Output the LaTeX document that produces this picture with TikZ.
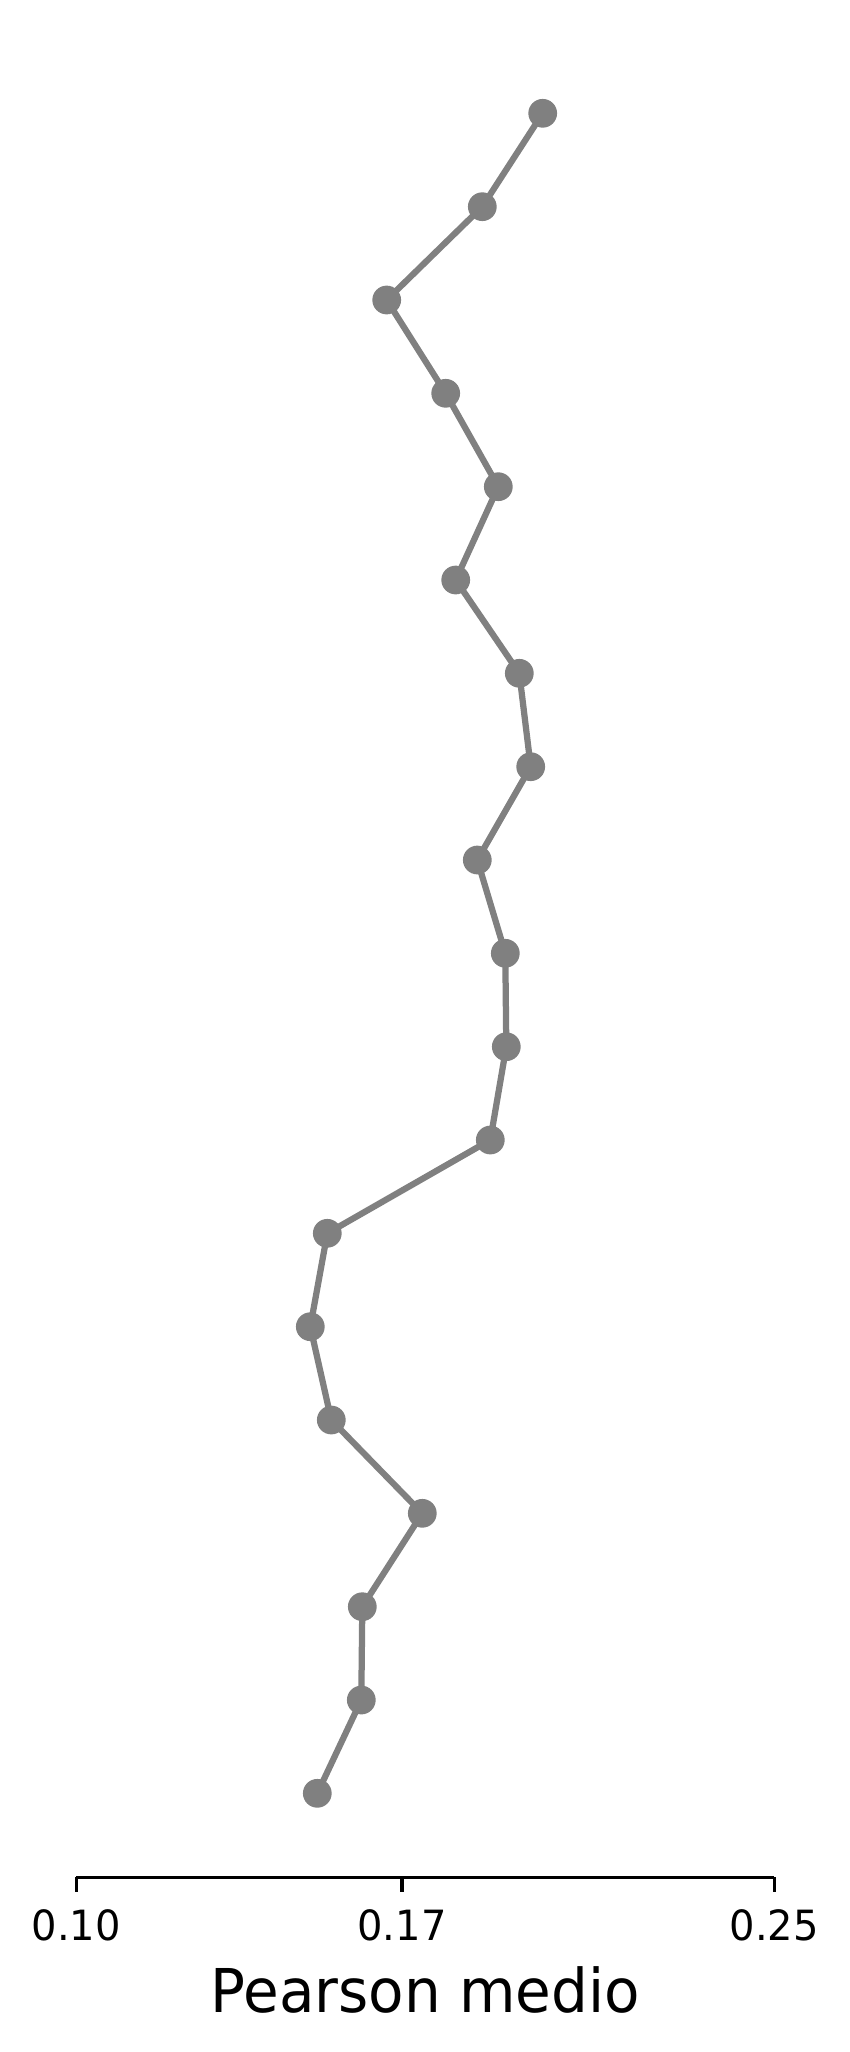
\documentclass[tikz,border=0pt]{standalone}
\usepackage{fontspec}
\setmainfont{DejaVu Sans}[FakeStretch=0.96]
\usepackage{tikz}
\definecolor{markergray}{RGB}{128,128,128}

\begin{document}
\begin{tikzpicture}[x=0.24pt, y=-0.24pt, every edge/.style={draw=markergray, line width=1.5pt}, dot/.style={circle, fill=markergray, inner sep=0pt, minimum size=6.9pt}, ticklabel/.style={anchor=base, font=\fontsize{10}{12}\selectfont}]
	\useasboundingbox (0,0) rectangle (850,2052);
	% markers
	\node [dot] (P1) at (542.7,113.3) {};
	\node [dot] (P2) at (482.3,206.7) {};
	\node [dot] (P3) at (386.7,300.0) {};
	\node [dot] (P4) at (445.7,393.3) {};
	\node [dot] (P5) at (498.3,486.7) {};
	\node [dot] (P6) at (455.7,580.0) {};
	\node [dot] (P7) at (519.3,673.3) {};
	\node [dot] (P8) at (530.7,766.7) {};
	\node [dot] (P9) at (477.3,860.0) {};
	\node [dot] (P10) at (505.3,953.3) {};
	\node [dot] (P11) at (506.3,1046.7) {};
	\node [dot] (P12) at (490.3,1140.0) {};
	\node [dot] (P13) at (327.3,1233.3) {};
	\node [dot] (P14) at (310.3,1326.7) {};
	\node [dot] (P15) at (331.3,1420.0) {};
	\node [dot] (P16) at (422.3,1513.3) {};
	\node [dot] (P17) at (362.3,1606.7) {};
	\node [dot] (P18) at (361.3,1700.0) {};
	\node [dot] (P19) at (317.3,1793.3) {};
	\path (P1.center) edge (P2.center);
	\path (P2.center) edge (P3.center);
	\path (P3.center) edge (P4.center);
	\path (P4.center) edge (P5.center);
	\path (P5.center) edge (P6.center);
	\path (P6.center) edge (P7.center);
	\path (P7.center) edge (P8.center);
	\path (P8.center) edge (P9.center);
	\path (P9.center) edge (P10.center);
	\path (P10.center) edge (P11.center);
	\path (P11.center) edge (P12.center);
	\path (P12.center) edge (P13.center);
	\path (P13.center) edge (P14.center);
	\path (P14.center) edge (P15.center);
	\path (P15.center) edge (P16.center);
	\path (P16.center) edge (P17.center);
	\path (P17.center) edge (P18.center);
	\path (P18.center) edge (P19.center);
	% x axis
	\coordinate (T10) at (76.3,1877.3);
	\coordinate (T17) at (402.0,1877.3);
	\coordinate (T25) at (774.3,1877.3);
	\draw [line width=0.8pt] (T10) -- (T25);
	\draw [line width=0.8pt] (T10) -- ++(0,14.6);
	\draw [line width=0.8pt] (T17) -- ++(0,14.6);
	\draw [line width=0.8pt] (T25) -- ++(0,14.6);
	\node [ticklabel] (L10) at (76.3,1940.7) {0.10};
	\node [ticklabel] (L17) at (402.0,1940.7) {0.17};
	\node [ticklabel] (L25) at (774.3,1940.7) {0.25};
	\node [anchor=base, font=\fontsize{14.5}{17}\selectfont] (XL) at (425.3,2012.3) {Pearson medio};
\end{tikzpicture}
\end{document}
